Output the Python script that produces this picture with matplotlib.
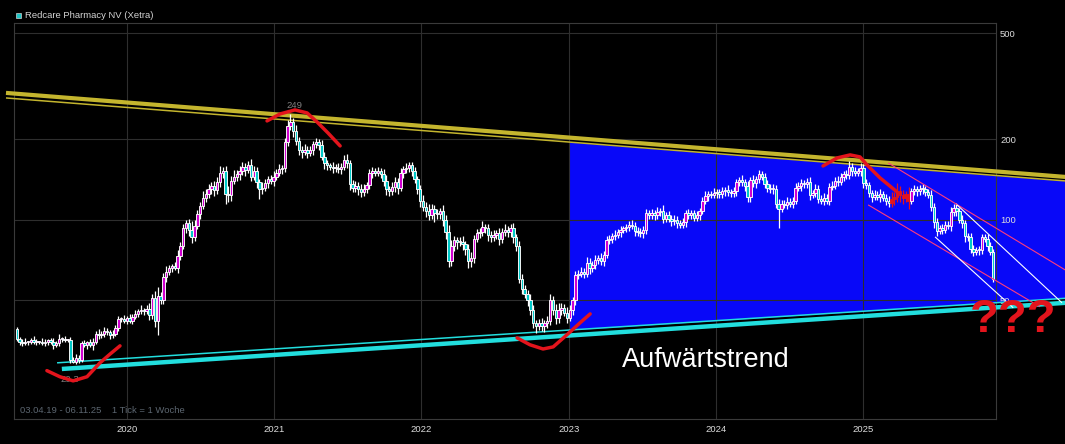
import numpy as np
import pandas as pd
import matplotlib
matplotlib.use("Agg")
import matplotlib.pyplot as plt
from matplotlib.patches import Rectangle
from matplotlib.ticker import NullLocator

# Redcare Pharmacy NV (Xetra), weekly candles 03.04.19 - 06.11.25
start = pd.Timestamp("2019-04-03")
first_open = 39
closes = [
    36, 35, 34.5, 35, 35, 35.5, 35, 35, 35, 34.5, 35, 35.5, 35, 34, 34.5, 36, 36, 35.5, 35.5, 30,
    29.5, 30.5, 30, 34.5, 34, 35, 34, 35, 37.5, 37, 37.5, 38.5, 38, 37, 37.5, 39.5, 42.5, 42.5, 42, 43,
    42, 43.5, 44.5, 45.5, 46, 45.5, 46.5, 44, 51, 42, 52, 50, 61, 64, 66, 67, 66, 73, 80, 93,
    97, 92, 86, 95, 105, 113, 121, 125, 130, 134, 129, 138, 150, 152, 125, 124, 140, 145, 148, 152,
    158, 154, 160, 145, 152, 138, 130, 132, 137, 142, 140, 145, 150, 155, 156, 195, 225, 232, 215, 198,
    182, 180, 183, 178, 182, 192, 195, 190, 172, 163, 160, 158, 156, 157, 155, 158, 168, 163, 136, 132,
    134, 130, 127, 131, 135, 150, 152, 150, 152, 149, 140, 130, 128, 133, 138, 132, 150, 155, 157, 160,
    152, 142, 130, 118, 112, 108, 104, 110, 106, 105, 108, 100, 90, 70, 80, 84, 83, 83, 81, 78,
    70, 72, 85, 89, 90, 94, 93, 88, 86, 88, 89, 85, 90, 92, 90, 93, 86, 80, 60, 55,
    53, 50, 46, 41, 40, 41, 40, 41, 42, 50, 46, 43, 46, 47, 45, 43, 46, 50, 62, 63,
    64, 63, 69, 66, 68, 71, 72, 70, 74, 84, 85, 87, 88, 90, 92, 93, 94, 96, 95, 91,
    90, 89, 92, 106, 104, 106, 104, 107, 108, 101, 104, 101, 99, 100, 97, 96, 98, 106, 104, 106,
    102, 104, 108, 118, 123, 125, 124, 126, 127, 125, 128, 129, 127, 126, 128, 138, 141, 138, 134, 122,
    141, 137, 142, 148, 145, 136, 132, 130, 131, 115, 110, 115, 114, 117, 115, 118, 132, 134, 137, 136,
    139, 124, 126, 131, 120, 118, 121, 118, 133, 134, 140, 139, 145, 148, 147, 158, 152, 150, 152, 157,
    137, 135, 126, 122, 124, 122, 125, 121, 118, 116, 120, 122, 128, 124, 121, 125, 118, 128, 130, 128,
    131, 130, 127, 124, 112, 98, 91, 93, 92, 96, 95, 107, 111, 108, 100, 97, 87, 86, 78, 76,
    77, 77, 86, 85, 80, 76, 60,
]
# wick beyond the body, in percent
hi_pct = [
    2, 1, 2, 3, 1, 2, 4, 2, 1, 3, 2, 1, 2, 3, 2, 4, 1, 2, 1, 3,
    2, 3, 2, 2, 3, 1, 2, 3, 2, 4, 2, 3, 2, 2, 3, 2, 3, 2, 4, 2,
    3, 2, 3, 2, 4, 2, 3, 5, 4, 6, 8, 3, 4, 5, 3, 2, 4, 6, 3, 4,
    3, 4, 8, 5, 4, 3, 6, 4, 5, 3, 4, 5, 6, 4, 5, 7, 4, 6, 4, 5,
    4, 3, 4, 6, 5, 4, 3, 5, 4, 3, 4, 5, 3, 4, 3, 4, 5, 7, 4, 5,
    3, 4, 5, 3, 4, 3, 4, 3, 5, 4, 3, 2, 4, 3, 4, 3, 4, 5, 3, 4,
    4, 3, 5, 4, 3, 3, 4, 3, 4, 3, 4, 5, 3, 4, 5, 4, 4, 3, 4, 3,
    3, 4, 3, 4, 5, 4, 6, 4, 3, 4, 3, 5, 4, 6, 5, 4, 3, 4, 5, 3,
    4, 5, 3, 4, 4, 5, 3, 4, 3, 4, 3, 5, 4, 5, 3, 4, 5, 3, 4, 5,
    4, 3, 6, 4, 3, 4, 5, 3, 4, 6, 4, 5, 6, 4, 3, 5, 4, 3, 4, 3,
    4, 3, 5, 4, 3, 4, 3, 4, 3, 4, 3, 3, 4, 3, 3, 2, 3, 3, 4, 3,
    3, 4, 3, 4, 3, 4, 3, 4, 3, 5, 3, 4, 3, 4, 3, 3, 4, 3, 4, 3,
    3, 4, 3, 3, 4, 3, 3, 4, 3, 3, 4, 3, 5, 3, 4, 3, 3, 4, 3, 4,
    3, 4, 3, 4, 3, 3, 4, 3, 4, 3, 4, 3, 3, 4, 3, 3, 4, 3, 4, 3,
    3, 4, 3, 4, 3, 3, 4, 3, 3, 4, 3, 4, 3, 3, 4, 5, 3, 4, 3, 4,
    3, 4, 3, 3, 4, 3, 4, 3, 3, 4, 6, 4, 7, 5, 4, 3, 6, 3, 4, 3,
    3, 4, 3, 3, 4, 3, 4, 3, 4, 3, 3, 4, 3, 4, 3, 4, 3, 3, 4, 3,
    3, 4, 3, 3, 4, 3, 2,
]
lo_pct = [
    2, 3, 2, 1, 3, 2, 2, 3, 2, 1, 2, 3, 2, 3, 2, 2, 3, 2, 2, 3,
    1, 2, 3, 2, 2, 3, 2, 4, 2, 3, 2, 3, 2, 3, 2, 2, 3, 2, 2, 3,
    2, 3, 2, 3, 2, 3, 2, 4, 3, 5, 12, 3, 3, 4, 3, 3, 2, 4, 3, 3,
    4, 5, 5, 3, 3, 4, 3, 4, 3, 4, 5, 3, 4, 4, 8, 6, 5, 3, 4, 5,
    3, 5, 3, 4, 3, 5, 8, 4, 3, 4, 3, 4, 3, 3, 4, 3, 3, 4, 5, 4,
    4, 5, 3, 4, 3, 4, 3, 4, 3, 5, 4, 3, 4, 3, 3, 4, 3, 4, 5, 4,
    4, 5, 4, 3, 4, 3, 4, 3, 3, 4, 4, 5, 4, 3, 4, 5, 3, 4, 3, 4,
    4, 3, 4, 5, 4, 5, 4, 3, 7, 4, 4, 5, 6, 5, 4, 4, 6, 4, 5, 5,
    6, 5, 4, 3, 4, 3, 4, 5, 4, 3, 4, 5, 4, 3, 4, 4, 5, 4, 3, 4,
    4, 5, 4, 4, 6, 3, 4, 5, 4, 4, 4, 5, 4, 4, 3, 4, 3, 4, 4, 3,
    3, 4, 3, 5, 3, 4, 4, 3, 4, 3, 3, 4, 3, 3, 4, 3, 3, 3, 3, 4,
    3, 3, 4, 4, 3, 3, 4, 3, 3, 4, 3, 3, 4, 3, 4, 3, 3, 4, 3, 3,
    3, 3, 4, 3, 3, 4, 3, 3, 4, 3, 3, 4, 3, 3, 3, 4, 3, 3, 4, 4,
    4, 3, 4, 3, 3, 3, 4, 3, 4, 4, 15, 3, 3, 4, 3, 4, 3, 3, 4, 3,
    3, 4, 3, 3, 4, 3, 4, 3, 4, 3, 3, 4, 3, 4, 3, 3, 4, 3, 3, 4,
    4, 3, 3, 4, 3, 3, 4, 3, 4, 4, 4, 5, 4, 6, 5, 4, 7, 3, 3, 4,
    3, 4, 3, 3, 4, 5, 4, 3, 4, 3, 3, 4, 3, 4, 3, 4, 5, 3, 4, 4,
    3, 4, 3, 3, 4, 3, 2,
]
red_weeks = list(range(310, 317))  # candles marked red by hand
years = [2020, 2021, 2022, 2023, 2024, 2025]
price_ticks = [50, 100, 200, 500]

# hand drawn trend lines: (week, price) end points
yellow_thick = [(-3.8, 298.5), (371.5, 144.8)]
yellow_thin = [(-3.8, 285.8), (371.5, 139.9)]
cyan_thick = [(16.0, 27.7), (371.5, 48.95)]
cyan_thin = [(14.3, 29.2), (371.5, 50.9)]
pink_hi = [(308.8, 163.3), (371.5, 65.0)]
pink_lo = [(301.7, 113.8), (362.6, 47.3)]
white_hi = [(333.2, 113.8), (370.4, 48.95)]
white_lo = [(325.4, 86.4), (353.1, 46.9)]

# red freehand curves (week, price)
curve_low19 = [(10.7, 27.3), (15.3, 25.9), (20.0, 25.0), (24.9, 25.9), (29.5, 29.2), (33.1, 31.5), (36.6, 33.8)]
curve_top21 = [(88.7, 234.5), (93.3, 249), (98.6, 257.8), (102.9, 251.2), (106.4, 232.5), (110.3, 211.4), (114.6, 189.1)]
curve_low22 = [(177.3, 36.2), (181.9, 34.1), (186.5, 32.9), (190.1, 33.5), (195.0, 37.2), (199.6, 41.2), (203.2, 44.5)]
curve_top24 = [(285.7, 159.1), (290.7, 170.5), (295.3, 175.0), (298.8, 172.0), (301.3, 160.5), (305.9, 143.6), (311.9, 127.3)]


def week_of(d):
    return (pd.Timestamp(d) - start).days / 7


def at(line, x):
    (x0, p0), (x1, p1) = line
    t = (x - x0) / (x1 - x0)
    return 10 ** (np.log10(p0) + t * (np.log10(p1) - np.log10(p0)))


W, H = 1065, 444
fig = plt.figure(figsize=(W / 100, H / 100), dpi=100, facecolor="black")
ax = fig.add_axes([14 / W, 1 - 419 / H, (996 - 14) / W, (419 - 23) / H])
ax.set_facecolor("black")
ax.set_yscale("log")
ax.set_xlim(-0.96, 347.0)
ax.set_ylim(18.0, 545)

# blue channel fill from 2023 on
x23 = week_of("2023-01-01")
xs = np.array([x23, 371.5])
ax.fill_between(xs, at(cyan_thin, xs), at(yellow_thin, xs), color="#0808f8",
                lw=0, zorder=1, clip_on=False)

# grid
ax.grid(True, color="#2e2e2e", lw=0.8)
for s in ax.spines.values():
    s.set_color("#3a3a3a")
    s.set_linewidth(0.8)

ax.set_xticks([week_of(f"{y}-01-01") for y in years])
ax.set_xticklabels([str(y) for y in years])
ax.yaxis.tick_right()
ax.set_yticks(price_ticks)
ax.set_yticklabels([str(p) for p in price_ticks])
ax.yaxis.set_minor_locator(NullLocator())
ax.tick_params(axis="both", length=0, labelsize=6.8, labelcolor="#dcdcdc")
ax.tick_params(axis="x", pad=4)
ax.tick_params(axis="y", pad=3)
for lab in ax.get_xticklabels() + ax.get_yticklabels():
    lab.set_family("Liberation Sans")

# trend lines
def draw(line, color, lw, z=3):
    ax.plot([p[0] for p in line], [p[1] for p in line], color=color, lw=lw,
            zorder=z, clip_on=False, solid_capstyle="butt")

draw(yellow_thick, "#c4b52e", 3.0)
draw(yellow_thin, "#c4b52e", 1.1)
draw(cyan_thick, "#22dede", 3.2)
draw(cyan_thin, "#22dede", 1.1)

# candles
opens = [first_open] + closes[:-1]
for i, (o, c, hp, lp) in enumerate(zip(opens, closes, hi_pct, lo_pct)):
    top, bot = max(o, c), min(o, c)
    hi = top * (1 + hp / 100)
    lo = bot * (1 - lp / 100)
    if i in red_weeks:
        wick, face, edge = "#e3141c", "#e3141c", "#e3141c"
    else:
        wick = "white"
        face = "#d000d0" if c >= o else "#00c8c8"
        edge = "white"
    ax.vlines(i, lo, hi, color=wick, lw=0.9, zorder=4)
    if top / bot < 1.008:
        top = bot * 1.008
    ax.bar(i, top - bot, bottom=bot, width=0.85, color=face, edgecolor=edge,
           linewidth=0.65, zorder=5)

draw(pink_hi, "#ff3c7c", 0.8, z=6)
draw(pink_lo, "#ff3c7c", 0.8, z=6)
draw(white_hi, "white", 0.8, z=6)
draw(white_lo, "white", 0.8, z=6)

for cv in (curve_low19, curve_top21, curve_low22, curve_top24):
    ax.plot([p[0] for p in cv], [p[1] for p in cv], color="#e3141c", lw=2.5,
            zorder=7, solid_capstyle="round", solid_joinstyle="round", clip_on=False)

# labels
ax.text(98.6, 266.8, "249", color="#808080", fontsize=6.8, ha="center", va="center",
        family="Liberation Sans", zorder=6)
ax.text(18.9, 25.4, "29.3", color="#808080", fontsize=6.8, ha="center", va="center",
        family="Liberation Sans", zorder=6)
ax.text(214.5, 28.2, "Aufwärtstrend", color="white", fontsize=19.5, va="baseline",
        family="Liberation Sans", zorder=8)
ax.text(337.8, 38.2, "???", color="#e3141c", fontsize=34, fontweight="bold",
        va="baseline", family="Liberation Sans", zorder=9, clip_on=False)

fig.patches.append(Rectangle((16 / W, 1 - 18 / H), 5 / W, 5 / H, transform=fig.transFigure,
                             facecolor="#1ec4c4", edgecolor="#cfcfcf", lw=0.5))
fig.text(25 / W, 1 - 15.5 / H, "Redcare Pharmacy NV (Xetra)", color="#d4d4d4",
         fontsize=6.8, va="center", family="Liberation Sans")
fig.text(20 / W, 1 - 410.5 / H, "03.04.19 - 06.11.25    1 Tick = 1 Woche", color="#5c6670",
         fontsize=6.8, va="center", family="Liberation Sans")

fig.savefig("out.png", dpi=100, facecolor="black")
